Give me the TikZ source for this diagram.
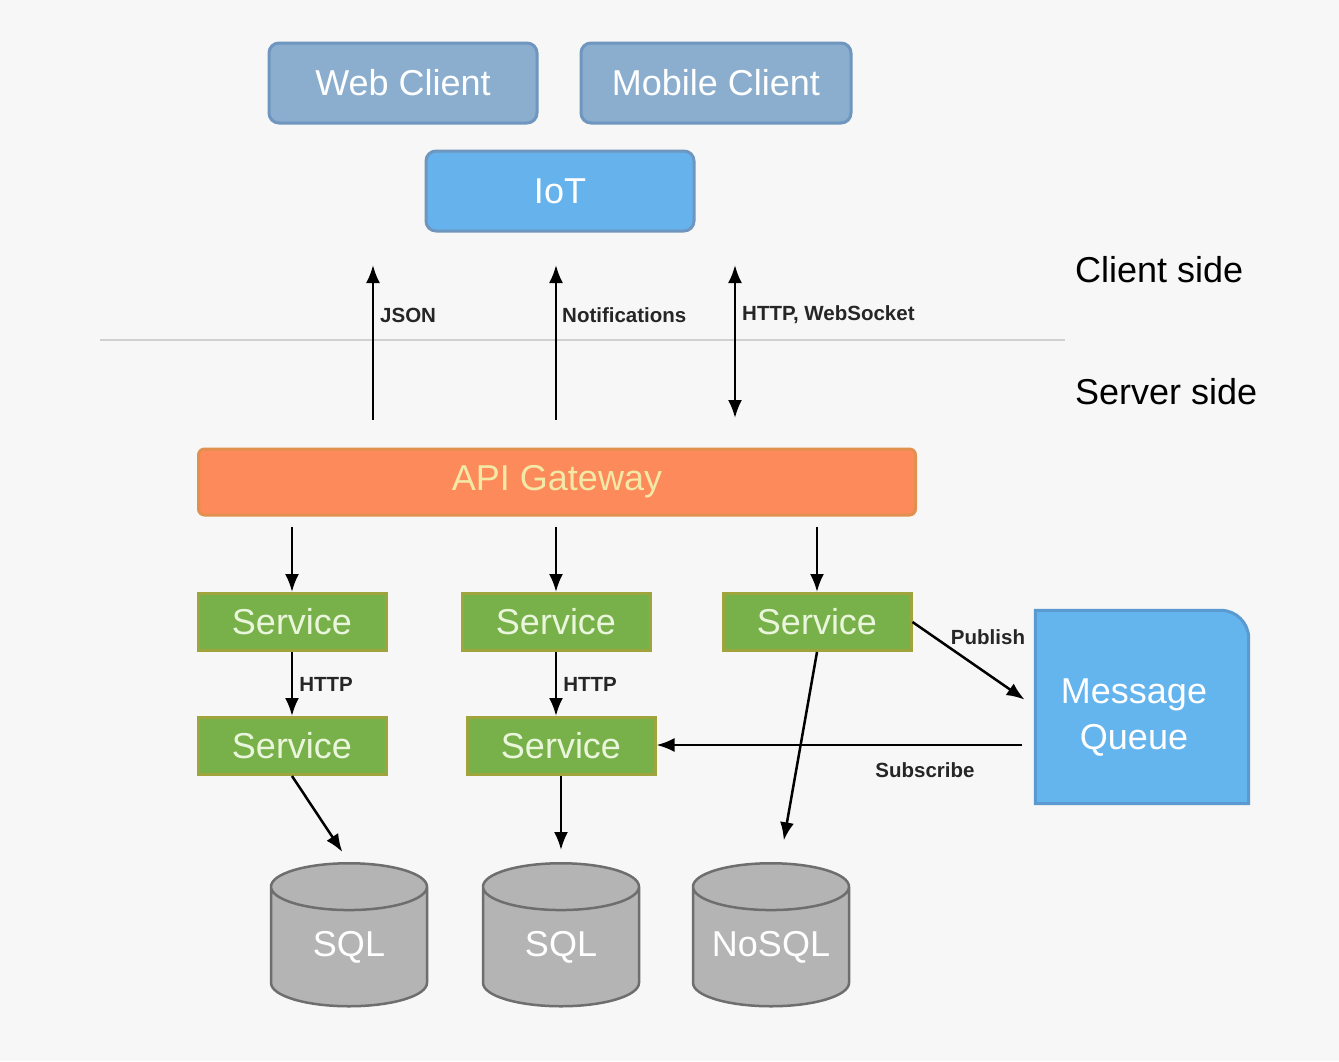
\documentclass[tikz,border=0pt]{standalone}
\usepackage{fontspec}
\setmainfont{Liberation Sans}
\usetikzlibrary{arrows.meta,shapes.geometric}
\definecolor{pagebg}{HTML}{F7F7F7}
\definecolor{clientfill}{HTML}{8BAECF}
\definecolor{clientedge}{HTML}{6E96BE}
\definecolor{iotfill}{HTML}{66B2EC}
\definecolor{gwfill}{HTML}{FC8A5A}
\definecolor{gwedge}{HTML}{E29050}
\definecolor{gwtext}{HTML}{F4E8A6}
\definecolor{svcfill}{HTML}{78B04A}
\definecolor{svcedge}{HTML}{A0A43C}
\definecolor{svctext}{HTML}{EAF6DC}
\definecolor{mqfill}{HTML}{64B4EE}
\definecolor{mqedge}{HTML}{5A9AD0}
\definecolor{dbfill}{HTML}{B4B4B4}
\definecolor{dbedge}{HTML}{6E6E6E}
\definecolor{sepline}{HTML}{D0D0D0}

\begin{document}
\begin{tikzpicture}[x=1pt,y=-1pt,
  bigtext/.style={font=\fontsize{36}{40}\selectfont},
  smalltext/.style={font=\fontsize{20.5}{24}\selectfont\bfseries, text=black!85, inner sep=0pt},
  clientbox/.style={bigtext, draw=clientedge, fill=clientfill, line width=3pt,
    rounded corners=10pt, minimum height=80pt, text=white},
  svcbox/.style={bigtext, draw=svcedge, fill=svcfill, line width=3pt,
    minimum width=188pt, minimum height=57pt, text=svctext},
  dbnode/.style={bigtext, cylinder, shape border rotate=90, aspect=0.39,
    draw=dbedge, fill=dbfill, line width=2.5pt, inner sep=0pt,
    text width=120pt, align=center, minimum width=156pt,
    minimum height=143pt, text=white, anchor=north},
  link/.style={line width=2.5pt, -{Latex[length=18pt,width=14pt]}}]

  % page
  \fill[pagebg] (0,0) rectangle (1339,1061);
  \useasboundingbox (0,0) rectangle (1339,1061);

  % client side
  \node[clientbox, minimum width=268pt] (web) at (403,83) {Web Client};
  \node[clientbox, minimum width=270pt] (mobile) at (716,83) {Mobile Client};
  \node[clientbox, fill=iotfill, minimum width=268pt] (iot) at (560,191) {IoT};

  \node[bigtext, anchor=west, inner sep=0pt] (clientside) at (1075,270) {Client side};
  \node[bigtext, anchor=west, inner sep=0pt] (serverside) at (1075,392) {Server side};
  \draw[sepline, line width=2pt] (100,340) -- (1065,340);

  % gateway links
  \coordinate (jsonlo) at (373,420);
  \coordinate (jsonhi) at (373,265);
  \coordinate (notelo) at (556,420);
  \coordinate (notehi) at (556,265);
  \coordinate (wslo) at (735,418);
  \coordinate (wshi) at (735,265);
  \draw[link] (jsonlo) -- (jsonhi);
  \draw[link] (notelo) -- (notehi);
  \draw[link, {Latex[length=18pt,width=14pt]}-{Latex[length=18pt,width=14pt]}] (wslo) -- (wshi);
  \node[smalltext, anchor=west] (json) at (380,315) {JSON};
  \node[smalltext, anchor=west] (notes) at (562,315) {Notifications};
  \node[smalltext, anchor=west] (ws) at (742,315) {HTTP, WebSocket};

  % server side
  \node[bigtext, draw=gwedge, fill=gwfill, line width=3pt, rounded corners=6pt,
    minimum width=717pt, minimum height=66pt, text=gwtext] (gw) at (557,482) {API Gateway};

  \node[svcbox] (svca) at (292,622) {Service};
  \node[svcbox] (svcb) at (556,622) {Service};
  \node[svcbox] (svcc) at (817,622) {Service};
  \node[svcbox] (svcd) at (292,746) {Service};
  \node[svcbox] (svce) at (561,746) {Service};

  \node[minimum width=213pt, minimum height=193pt] (mq) at (1142,707) {};
  \draw[mqedge, fill=mqfill, line width=3pt] (mq.south west) -- (mq.north west)
    -- ([xshift=-28pt]mq.north east) arc[start angle=90, end angle=0, radius=28pt]
    -- (mq.south east) -- cycle;
  \node[bigtext, align=center, text=white, font=\fontsize{36}{46}\selectfont] (mqtext) at (1134,718) {Message\\Queue};

  \node[dbnode] (dba) at (349,862) {SQL};
  \node[dbnode] (dbb) at (561,862) {SQL};
  \node[dbnode] (dbc) at (771,862) {NoSQL};

  \draw[link, shorten <=10pt] (gw.south -| svca.north) -- (svca.north);
  \draw[link, shorten <=10pt] (gw.south -| svcb.north) -- (svcb.north);
  \draw[link, shorten <=10pt] (gw.south -| svcc.north) -- (svcc.north);

  \draw[link] (svca) -- (svcd) node[smalltext, midway, right=6pt] (httpa) {HTTP};
  \draw[link] (svcb) -- (svcb |- svce.north) node[smalltext, midway, right=6pt] (httpb) {HTTP};

  \draw[link, shorten >=13pt] (svcc.east) -- (mq.west);
  \node[smalltext] (publish) at (988,637) {Publish};
  \draw[link, shorten <=13pt] ([yshift=-38pt]mq.west) -- (svce.east |- 0,745);
  \node[smalltext] (subscribe) at (925,770) {Subscribe};

  \draw[link, shorten >=12pt] (svcd.south) -- (dba.north);
  \draw[link, shorten >=12pt] (svce.south) -- (dbb.north);
  \draw[link, shorten >=22pt] (svcc.south) -- ([xshift=9pt]dbc.north);
\end{tikzpicture}
\end{document}
